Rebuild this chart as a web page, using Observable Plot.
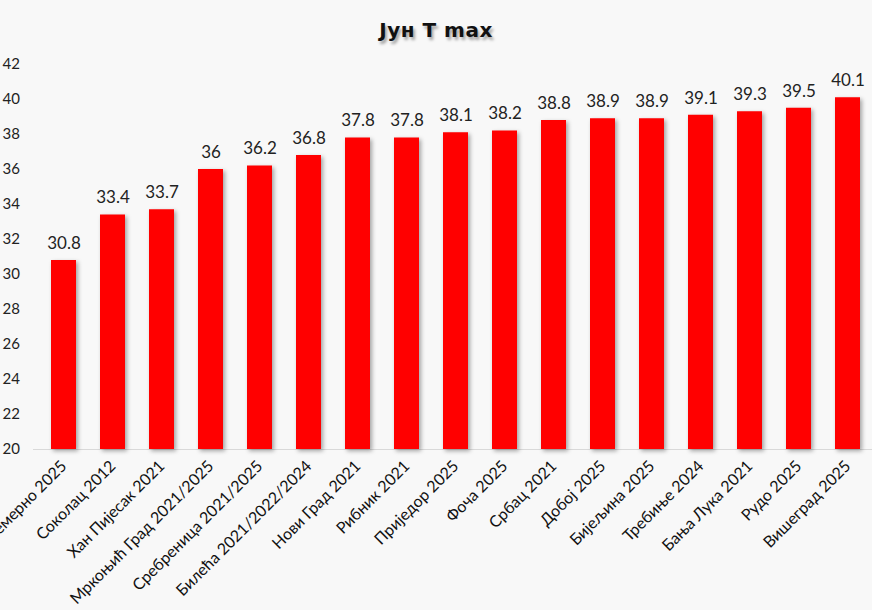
<!DOCTYPE html>
<html>
<head>
<meta charset="utf-8">
<script src="https://cdn.jsdelivr.net/npm/d3@7"></script>
<script src="https://cdn.jsdelivr.net/npm/@observablehq/plot@0.6"></script>
<style>
  html, body { margin: 0; padding: 0; background: #f8f8f8; }
  #title { height: 46px; line-height: 60px; text-align: center; font-family: "DejaVu Sans", sans-serif; font-weight: bold; font-size: 20px; color: #111; text-shadow: 2px 3px 3px rgba(0,0,0,0.35); letter-spacing: 0.5px; }
  .bars rect { filter: drop-shadow(2px 2px 2px rgba(0,0,0,0.35)); }
</style>
</head>
<body>
<div id="title">Јун Т max</div>
<div id="chart"></div>
<script>
const stations = ["Чемерно 2025", "Соколац 2012", "Хан Пијесак 2021", "Мркоњић Град 2021/2025", "Сребреница 2021/2025", "Билећа 2021/2022/2024", "Нови Град 2021", "Рибник 2021", "Приједор 2025", "Фоча 2025", "Србац 2021", "Добој 2025", "Бијељина 2025", "Требиње 2024", "Бања Лука 2021", "Рудо 2025", "Вишеград 2025"];
const tmax = [30.8, 33.4, 33.7, 36, 36.2, 36.8, 37.8, 37.8, 38.1, 38.2, 38.8, 38.9, 38.9, 39.1, 39.3, 39.5, 40.1];
const yTicks = [20, 22, 24, 26, 28, 30, 32, 34, 36, 38, 40, 42];

const data = stations.map((s, i) => ({station: s, value: tmax[i]}));

const chart = Plot.plot({
  width: 872,
  height: 564,
  marginTop: 18,
  marginBottom: 161,
  marginLeft: 33,
  marginRight: 0,
  style: {background: "#f8f8f8", fontFamily: "Lato, 'Open Sans', sans-serif", overflow: "visible"},
  x: {domain: stations, range: [33, 878], paddingInner: 0.48, paddingOuter: 0.24},
  y: {domain: [20, 42]},
  marks: [
    Plot.ruleY([20], {stroke: "#d9d9d9", strokeWidth: 1}),
    Plot.barY(data, {x: "station", y1: 20, y2: "value", fill: "#ff0000", className: "bars"}),
    Plot.text(data, {x: "station", y: "value", text: d => String(d.value), dy: -17, fontSize: 17, fill: "#222"}),
    Plot.axisY({ticks: yTicks, tickSize: 0, tickPadding: 0, textAnchor: "start", dx: -31, fontSize: 15, fill: "#222", label: null}),
    Plot.axisX({tickSize: 0, tickRotate: -45, tickPadding: 14, fontSize: 16, fill: "#111", label: null})
  ]
});
document.getElementById("chart").appendChild(chart);
</script>
</body>
</html>
